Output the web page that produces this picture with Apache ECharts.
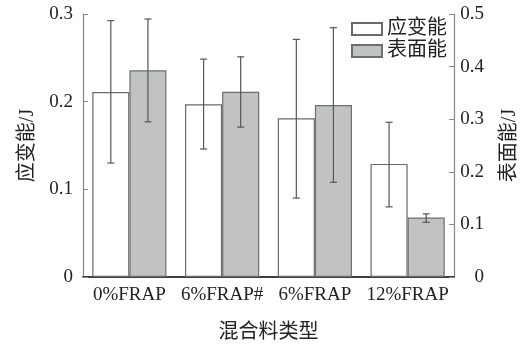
<!DOCTYPE html>
<html>
<head>
<meta charset="utf-8">
<script src="https://cdn.jsdelivr.net/npm/echarts@6/dist/echarts.min.js"></script>
<style>html,body{margin:0;padding:0;background:#fff;}#c{width:528px;height:348px;}</style>
</head>
<body>
<div id="c"></div>
<script>
const categories = ['0%FRAP', '6%FRAP#', '6%FRAP', '12%FRAP'];
const strainEnergy = [0.211, 0.197, 0.181, 0.129];
const strainErrLow = [0.130, 0.146, 0.090, 0.080];
const strainErrHigh = [0.2925, 0.2485, 0.271, 0.1765];
const surfaceEnergy = [0.393, 0.352, 0.327, 0.113];
const surfaceErrLow = [0.295, 0.285, 0.180, 0.104];
const surfaceErrHigh = [0.4905, 0.4186, 0.474, 0.120];
const leftTicks = [0, 0.1, 0.2, 0.3];
const rightTicks = [0, 0.1, 0.2, 0.3, 0.4, 0.5];

const serif = '"Liberation Serif", "Times New Roman", serif';
const cjk = '"Liberation Serif", "Noto Sans CJK SC", serif';

function errRender(offsetSign) {
  return function (params, api) {
    const x = api.value(0);
    const lo = api.coord([x, api.value(1)]);
    const hi = api.coord([x, api.value(2)]);
    const band = api.size([1, 0])[0];
    const cx = lo[0] + offsetSign * band * 0.2;
    const hw = 3.5;
    const style = { stroke: '#555', lineWidth: 1.2 };
    return {
      type: 'group',
      children: [
        { type: 'line', shape: { x1: cx, y1: hi[1], x2: cx, y2: lo[1] }, style: style },
        { type: 'line', shape: { x1: cx - hw, y1: hi[1], x2: cx + hw, y2: hi[1] }, style: style },
        { type: 'line', shape: { x1: cx - hw, y1: lo[1], x2: cx + hw, y2: lo[1] }, style: style }
      ]
    };
  };
}

const chart = echarts.init(document.getElementById('c'), null, { renderer: 'canvas' });
chart.setOption({
  animation: false,
  backgroundColor: '#fff',
  grid: { left: 83, right: 68, top: 14, bottom: 70 },
  legend: {
    orient: 'vertical',
    left: 346,
    top: 14,
    itemWidth: 30,
    itemHeight: 12,
    itemGap: 2,
    icon: 'rect',
    data: ['应变能', '表面能'],
    textStyle: { fontFamily: cjk, fontSize: 20, color: '#222' }
  },
  xAxis: {
    type: 'category',
    data: categories,
    name: '混合料类型',
    nameLocation: 'middle',
    nameGap: 46,
    nameTextStyle: { fontFamily: cjk, fontSize: 20, color: '#222' },
    axisLine: { lineStyle: { color: '#000', width: 1.5 } },
    axisTick: { show: false },
    axisLabel: { fontFamily: serif, fontSize: 19, color: '#222', margin: 9, interval: 0 }
  },
  yAxis: [
    {
      type: 'value',
      min: 0, max: 0.3, interval: 0.1,
      name: '应变能/J',
      nameLocation: 'middle',
      nameRotate: 90,
      nameGap: 45,
      nameTextStyle: { fontFamily: cjk, fontSize: 20, color: '#222' },
      axisLine: { show: true, lineStyle: { color: '#888', width: 1.2 } },
      axisTick: { show: true, inside: true, length: 5, lineStyle: { color: '#888' } },
      axisLabel: { fontFamily: serif, fontSize: 19, color: '#222', margin: 10,
        formatter: v => leftTicks.includes(+v.toFixed(2)) ? String(+v.toFixed(2)) : '' },
      splitLine: { show: false }
    },
    {
      type: 'value',
      min: 0, max: 0.5, interval: 0.1,
      position: 'right',
      name: '表面能/J',
      nameLocation: 'middle',
      nameRotate: 90,
      nameGap: 46,
      nameTextStyle: { fontFamily: cjk, fontSize: 20, color: '#222' },
      axisLine: { show: true, lineStyle: { color: '#888', width: 1.2 } },
      axisTick: { show: true, inside: true, length: 5, lineStyle: { color: '#888' } },
      axisLabel: { fontFamily: serif, fontSize: 19, color: '#222', margin: 30, align: 'right',
        formatter: v => rightTicks.includes(+v.toFixed(2)) ? String(+v.toFixed(2)) : '' },
      splitLine: { show: false }
    }
  ],
  series: [
    {
      name: '应变能', type: 'bar', yAxisIndex: 0,
      data: strainEnergy,
      barGap: '0%', barCategoryGap: '20%',
      itemStyle: { color: '#fff', borderColor: '#6a6a6a', borderWidth: 1.2 }
    },
    {
      name: '表面能', type: 'bar', yAxisIndex: 1,
      data: surfaceEnergy,
      barGap: '0%', barCategoryGap: '20%',
      itemStyle: { color: '#c1c3c3', borderColor: '#6e6e6e', borderWidth: 1.2 }
    },
    {
      type: 'custom', yAxisIndex: 0,
      renderItem: errRender(-1),
      encode: { x: 0, y: [1, 2] },
      data: categories.map((c, i) => [i, strainErrLow[i], strainErrHigh[i]]),
      z: 10
    },
    {
      type: 'custom', yAxisIndex: 1,
      renderItem: errRender(1),
      encode: { x: 0, y: [1, 2] },
      data: categories.map((c, i) => [i, surfaceErrLow[i], surfaceErrHigh[i]]),
      z: 10
    }
  ]
});
</script>
</body>
</html>
